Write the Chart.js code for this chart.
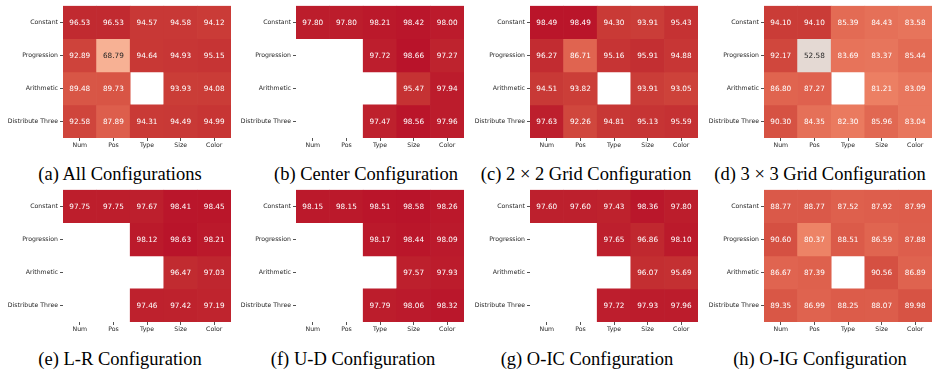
<!DOCTYPE html>
<html>
<head>
<meta charset="utf-8">
<script src="https://cdn.jsdelivr.net/npm/chart.js@4/dist/chart.umd.min.js"></script>
<style>
  html, body { margin: 0; padding: 0; background: #fff; }
  #page { position: relative; width: 935px; height: 373px; overflow: hidden; }
  canvas { position: absolute; }
  .cap {
    position: absolute; width: 300px; text-align: center; white-space: nowrap;
    font-family: "Liberation Serif", "Times New Roman", serif;
    font-size: 18.5px; line-height: 20px; color: #000;
  }
</style>
</head>
<body>
<div id="page"></div>
<script>
// Axis labels shared by every heatmap
const ruleTypes = ['Constant', 'Progression', 'Arithmetic', 'Distribute Three'];
const attributes = ['Num', 'Pos', 'Type', 'Size', 'Color'];

// Accuracy (%) per rule type (rows) and attribute (columns); null = no cell
const allConfigs = [
  [96.53, 96.53, 94.57, 94.58, 94.12],
  [92.89, 68.79, 94.64, 94.93, 95.15],
  [89.48, 89.73, null,  93.93, 94.08],
  [92.58, 87.89, 94.31, 94.49, 94.99]
];
const centerConfig = [
  [97.80, 97.80, 98.21, 98.42, 98.00],
  [null,  null,  97.72, 98.66, 97.27],
  [null,  null,  null,  95.47, 97.94],
  [null,  null,  97.47, 98.56, 97.96]
];
const grid2x2Config = [
  [98.49, 98.49, 94.30, 93.91, 95.43],
  [96.27, 86.71, 95.16, 95.91, 94.88],
  [94.51, 93.82, null,  93.91, 93.05],
  [97.63, 92.26, 94.81, 95.13, 95.59]
];
const grid3x3Config = [
  [94.10, 94.10, 85.39, 84.43, 83.58],
  [92.17, 52.58, 83.69, 83.37, 85.44],
  [86.80, 87.27, null,  81.21, 83.09],
  [90.30, 84.35, 82.30, 85.96, 83.04]
];
const leftRightConfig = [
  [97.75, 97.75, 97.67, 98.41, 98.45],
  [null,  null,  98.12, 98.63, 98.21],
  [null,  null,  null,  96.47, 97.03],
  [null,  null,  97.46, 97.42, 97.19]
];
const upDownConfig = [
  [98.15, 98.15, 98.51, 98.58, 98.26],
  [null,  null,  98.17, 98.44, 98.09],
  [null,  null,  null,  97.57, 97.93],
  [null,  null,  97.79, 98.06, 98.32]
];
const outInCenterConfig = [
  [97.60, 97.60, 97.43, 98.36, 97.80],
  [null,  null,  97.65, 96.86, 98.10],
  [null,  null,  null,  96.07, 95.69],
  [null,  null,  97.72, 97.93, 97.96]
];
const outInGridConfig = [
  [88.77, 88.77, 87.52, 87.92, 87.99],
  [90.60, 80.37, 88.51, 86.59, 87.88],
  [86.67, 87.39, null,  90.56, 86.89],
  [89.35, 86.99, 88.25, 88.07, 89.98]
];

const captions = [
  '(a) All Configurations', '(b) Center Configuration',
  '(c) 2 \u00d7 2 Grid Configuration', '(d) 3 \u00d7 3 Grid Configuration',
  '(e) L-R Configuration', '(f) U-D Configuration',
  '(g) O-IC Configuration', '(h) O-IG Configuration'
];

// Colour scale range
const VMIN = 0, VMAX = 100;

// Diverging "coolwarm" colour map, 33 evenly spaced stops
const COOLWARM = [
  [59,76,192],[68,90,204],[77,104,215],[87,117,225],[98,130,234],[108,142,241],
  [119,154,247],[130,165,251],[141,176,254],[152,185,255],[163,194,255],[174,201,253],
  [184,208,249],[194,213,244],[204,217,238],[213,219,230],[221,221,221],[229,216,209],
  [236,211,197],[241,204,184],[245,196,172],[247,187,160],[247,177,148],[247,166,135],
  [244,154,123],[241,141,111],[236,127,99],[229,112,88],[222,96,77],[213,80,66],
  [203,62,56],[192,40,47],[180,4,38]
];

function colourFor(v) {
  const t = Math.min(1, Math.max(0, (v - VMIN) / (VMAX - VMIN))) * (COOLWARM.length - 1);
  const i = Math.min(COOLWARM.length - 2, Math.floor(t));
  const f = t - i;
  const a = COOLWARM[i], b = COOLWARM[i + 1];
  return [0, 1, 2].map(k => Math.round(a[k] + (b[k] - a[k]) * f));
}
function rgb(c) { return 'rgb(' + c.join(',') + ')'; }
function luminance(c) {
  const lin = c.map(x => { x /= 255; return x <= 0.03928 ? x / 12.92 : Math.pow((x + 0.055) / 1.055, 2.4); });
  return 0.2126 * lin[0] + 0.7152 * lin[1] + 0.0722 * lin[2];
}

// Writes each cell's value in its centre
const cellLabels = {
  id: 'cellLabels',
  afterDatasetsDraw(chart) {
    const { ctx, scales: { x, y } } = chart;
    const values = chart.config.options.plugins.cellLabels.values;
    ctx.save();
    ctx.font = '7.3px "DejaVu Sans"';
    ctx.textAlign = 'center';
    ctx.textBaseline = 'middle';
    values.forEach((row, r) => row.forEach((v, c) => {
      if (v === null) return;
      const col = colourFor(v);
      ctx.fillStyle = luminance(col) > 0.408 ? '#262626' : '#ffffff';
      ctx.fillText(v.toFixed(2), x.getPixelForValue(c), y.getPixelForValue(r + 0.5) + 0.5);
    }));
    ctx.restore();
  }
};

const matrices = [allConfigs, centerConfig, grid2x2Config, grid3x3Config,
                  leftRightConfig, upDownConfig, outInCenterConfig, outInGridConfig];

// Panel placement: plot-area left edges per column, top edges per row
const plotLefts = [63, 296, 530, 764];
const plotTops = [4, 188];
const captionCentres = [[120, 366, 586, 820], [120, 353, 587, 820]];
const captionTops = [164, 349];
const Y_AXIS_W = 63, X_AXIS_H = 22, PLOT_W = 168, PLOT_H = 134;

const page = document.getElementById('page');
const tickFont = { family: 'DejaVu Sans', size: 6.2 };

matrices.forEach((values, idx) => {
  const row = Math.floor(idx / 4), col = idx % 4;
  const canvas = document.createElement('canvas');
  const w = Y_AXIS_W + PLOT_W + 2, h = 4 + PLOT_H + X_AXIS_H;
  canvas.width = w; canvas.height = h;
  canvas.style.left = (plotLefts[col] - Y_AXIS_W) + 'px';
  canvas.style.top = (plotTops[row] - 4) + 'px';
  canvas.style.width = w + 'px'; canvas.style.height = h + 'px';
  page.appendChild(canvas);

  const datasets = values.map((rowVals, r) => ({
    data: rowVals.map(v => v === null ? null : [r, r + 1]),
    backgroundColor: rowVals.map(v => v === null ? 'rgba(0,0,0,0)' : rgb(colourFor(v))),
    borderWidth: 0,
    barPercentage: 1,
    categoryPercentage: 1,
    grouped: false
  }));

  new Chart(canvas, {
    type: 'bar',
    data: { labels: attributes, datasets },
    plugins: [cellLabels],
    options: {
      responsive: false,
      animation: false,
      devicePixelRatio: 1,
      layout: { padding: { top: 4, right: 2, left: 0, bottom: 0 } },
      plugins: {
        legend: { display: false },
        tooltip: { enabled: false },
        cellLabels: { values }
      },
      scales: {
        x: {
          type: 'category',
          offset: true,
          grid: { display: true, offset: false, drawOnChartArea: false, drawTicks: true,
                  tickLength: 3, color: '#262626', lineWidth: 0.8 },
          border: { display: false },
          ticks: { font: tickFont, color: '#262626', padding: 1, maxRotation: 0, autoSkip: false },
          afterFit(scale) { scale.height = X_AXIS_H; }
        },
        y: {
          type: 'linear',
          min: 0, max: 4, reverse: true,
          afterBuildTicks(scale) { scale.ticks = ruleTypes.map((_, i) => ({ value: i + 0.5 })); },
          grid: { display: true, drawOnChartArea: false, drawTicks: true,
                  tickLength: 3, color: '#262626', lineWidth: 0.8 },
          border: { display: false },
          ticks: { font: tickFont, color: '#262626', padding: 2, autoSkip: false,
                   callback: (v, i) => ruleTypes[i] },
          afterFit(scale) { scale.width = Y_AXIS_W; }
        }
      }
    }
  });

  const cap = document.createElement('div');
  cap.className = 'cap';
  cap.textContent = captions[idx];
  cap.style.left = (captionCentres[row][col] - 150) + 'px';
  cap.style.top = captionTops[row] + 'px';
  page.appendChild(cap);
});
</script>
</body>
</html>
